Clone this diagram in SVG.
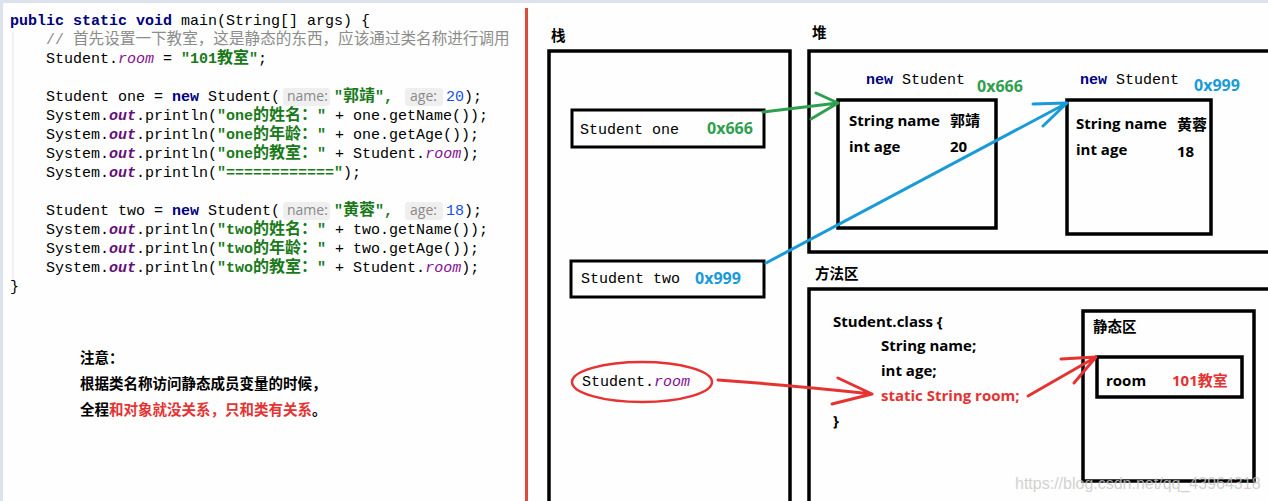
<svg xmlns="http://www.w3.org/2000/svg" width="1268" height="501" viewBox="0 0 1268 501">
<style>
.code{font-family:"Liberation Mono","Noto Sans CJK SC",monospace;font-size:15px;fill:#000}
.kw{font-weight:bold;fill:#000080}
.str{font-weight:bold;fill:#1a7a1a}
.cjk{font-family:"Noto Sans CJK SC",sans-serif;font-size:16px}
.ccjk{font-family:"Noto Sans CJK SC",sans-serif;font-size:15.6px}
.fld{font-style:italic;fill:#871094}
.out{font-style:italic;font-weight:bold;fill:#660e7a}
.num{fill:#1750eb}
.cmt{fill:#8c8c8c}
.hint{font-family:"Open Sans","Liberation Sans",sans-serif;font-size:14px;fill:#8a8a8a}
.hintbg{fill:#efefef}
.note{font-family:"Noto Sans CJK SC",sans-serif;font-weight:bold;font-size:14.5px;fill:#000}
.lbl{font-family:"Noto Sans CJK SC",sans-serif;font-weight:bold;font-size:14.5px;fill:#000}
.b{font-family:"Open Sans","Liberation Sans","Noto Sans CJK SC",sans-serif;font-weight:bold;font-size:15px;fill:#000}
.addr{font-family:"Open Sans","Liberation Sans",sans-serif;font-weight:bold;font-size:16px}
.g{fill:#2e9e4f}
.bl{fill:#1a9bd7}
.red,.b.red{fill:#e53333}
.box{fill:none;stroke:#000;stroke-width:3.5}
.thin{fill:none;stroke:#000;stroke-width:3}
</style>
<rect width="1268" height="501" fill="#fdfefd"/>
<rect x="0" y="0" width="1268" height="3" fill="#dde3ec"/>
<rect x="0" y="0" width="3" height="501" fill="#dde3ec"/>
<line x1="13" y1="32" x2="13" y2="282" stroke="#e2e2e2" stroke-width="1"/>
<rect x="525" y="8" width="3" height="493" fill="#e04a3a"/>

<g id="code">
<text class="code" xml:space="preserve" x="10" y="25"><tspan class="kw">public static void</tspan> main(String[] args) {</text>
<text class="code cmt" xml:space="preserve" x="46" y="44">// <tspan class="ccjk">首先设置一下教室，这是静态的东西，应该通过类名称进行调用</tspan></text>
<text class="code" xml:space="preserve" x="46" y="63">Student.<tspan class="fld">room</tspan> = <tspan class="str">"101<tspan class="cjk">教室</tspan>"</tspan>;</text>
<text class="code" xml:space="preserve" x="46" y="101">Student one = <tspan class="kw">new</tspan> Student(</text>
<rect class="hintbg" x="283" y="88" width="47" height="18" rx="3"/>
<text class="hint" x="287" y="101">name:</text>
<text class="code str" xml:space="preserve" x="334" y="101">"<tspan class="cjk">郭靖</tspan>",</text>
<rect class="hintbg" x="405" y="88" width="38" height="18" rx="3"/>
<text class="hint" x="410" y="101">age:</text>
<text class="code" xml:space="preserve" x="446" y="101"><tspan class="num">20</tspan>);</text>
<text class="code" xml:space="preserve" x="46" y="120">System.<tspan class="out">out</tspan>.println(<tspan class="str">"one<tspan class="cjk">的姓名：</tspan>"</tspan> + one.getName());</text>
<text class="code" xml:space="preserve" x="46" y="139">System.<tspan class="out">out</tspan>.println(<tspan class="str">"one<tspan class="cjk">的年龄：</tspan>"</tspan> + one.getAge());</text>
<text class="code" xml:space="preserve" x="46" y="158">System.<tspan class="out">out</tspan>.println(<tspan class="str">"one<tspan class="cjk">的教室：</tspan>"</tspan> + Student.<tspan class="fld">room</tspan>);</text>
<text class="code" xml:space="preserve" x="46" y="177">System.<tspan class="out">out</tspan>.println(<tspan class="str">"============"</tspan>);</text>
<text class="code" xml:space="preserve" x="46" y="215">Student two = <tspan class="kw">new</tspan> Student(</text>
<rect class="hintbg" x="283" y="202" width="47" height="18" rx="3"/>
<text class="hint" x="287" y="215">name:</text>
<text class="code str" xml:space="preserve" x="334" y="215">"<tspan class="cjk">黄蓉</tspan>",</text>
<rect class="hintbg" x="405" y="202" width="38" height="18" rx="3"/>
<text class="hint" x="410" y="215">age:</text>
<text class="code" xml:space="preserve" x="446" y="215"><tspan class="num">18</tspan>);</text>
<text class="code" xml:space="preserve" x="46" y="234">System.<tspan class="out">out</tspan>.println(<tspan class="str">"two<tspan class="cjk">的姓名：</tspan>"</tspan> + two.getName());</text>
<text class="code" xml:space="preserve" x="46" y="253">System.<tspan class="out">out</tspan>.println(<tspan class="str">"two<tspan class="cjk">的年龄：</tspan>"</tspan> + two.getAge());</text>
<text class="code" xml:space="preserve" x="46" y="272">System.<tspan class="out">out</tspan>.println(<tspan class="str">"two<tspan class="cjk">的教室：</tspan>"</tspan> + Student.<tspan class="fld">room</tspan>);</text>
<text class="code" x="10" y="291">}</text>
</g>

<g id="note">
<text class="note" x="80" y="363">注意：</text>
<text class="note" x="80" y="389">根据类名称访问静态成员变量的时候，</text>
<text class="note" x="80" y="415">全程<tspan class="red">和对象就没关系，只和类有关系</tspan>。</text>
</g>

<g id="stack">
<text class="lbl" x="551" y="41">栈</text>
<rect class="box" x="549" y="51" width="241" height="470"/>
</g>
<g id="stack-one">
<rect class="thin" x="572" y="110" width="192" height="37"/>
<text class="code" x="580" y="134">Student one</text>
<text class="addr g" x="707" y="134">0x666</text>
</g>
<g id="stack-two">
<rect class="thin" x="571" y="261" width="193" height="36"/>
<text class="code" x="581" y="283">Student two</text>
<text class="addr bl" x="695" y="284">0x999</text>
</g>
<g id="stack-room">
<ellipse cx="642" cy="382" rx="70" ry="20" fill="none" stroke="#e53333" stroke-width="2.5"/>
<text class="code" xml:space="preserve" x="582" y="386">Student.<tspan class="fld">room</tspan></text>
</g>

<g id="heap">
<text class="lbl" x="812" y="38">堆</text>
<rect class="box" x="809" y="51" width="470" height="201"/>
</g>
<g id="obj-one">
<text class="code" xml:space="preserve" x="866" y="84"><tspan class="kw">new</tspan> Student</text>
<text class="addr g" x="977" y="92">0x666</text>
<rect class="box" x="838" y="100" width="158" height="128"/>
<text class="b" x="849" y="126">String name</text>
<text class="b" x="950" y="126">郭靖</text>
<text class="b" x="849" y="152">int age</text>
<text class="b" x="950" y="152">20</text>
</g>
<g id="obj-two">
<text class="code" xml:space="preserve" x="1080" y="84"><tspan class="kw">new</tspan> Student</text>
<text class="addr bl" x="1194" y="91">0x999</text>
<rect class="box" x="1067" y="100" width="144" height="134"/>
<text class="b" x="1076" y="129">String name</text>
<text class="b" x="1177" y="130">黄蓉</text>
<text class="b" x="1076" y="155">int age</text>
<text class="b" x="1177" y="157">18</text>
</g>

<g id="method-area">
<text class="lbl" x="815" y="279">方法区</text>
<rect class="box" x="809" y="289" width="470" height="240"/>
<text class="b" x="833" y="327">Student.class {</text>
<text class="b" x="881" y="351">String name;</text>
<text class="b" x="881" y="376">int age;</text>
<text class="b red" x="881" y="401">static String room;</text>
<text class="b" x="833" y="426">}</text>
</g>
<g id="static-area">
<rect class="box" x="1083" y="311" width="171" height="170"/>
<text class="lbl" x="1093" y="332">静态区</text>
</g>
<g id="static-room">
<rect class="box" x="1097" y="357" width="145" height="40"/>
<text class="b" x="1106" y="386">room</text>
<text class="b red" x="1172" y="386">101教室</text>
</g>

<g id="connectors" fill="none" stroke-width="3" stroke-linecap="round" stroke-linejoin="round">
<path d="M763 112 L838 103 M816 93 L838 103 L811 119" stroke="#2e9e4f"/>
<path d="M766 263 L1067 103 M1033 104 L1067 103 L1043 126" stroke="#1a9bd7"/>
<path d="M718 380 Q800 386 872 394 M838 378 L872 394 L832 404" stroke="#e53333"/>
<path d="M1028 396 L1096 357 M1061 359 L1096 357 L1074 383" stroke="#e53333"/>
</g>

<text x="1015" y="489" font-family="Liberation Sans,sans-serif" font-size="16" fill="#c8c8c8" opacity="0.8">https://blog.csdn.net/qq_43964318</text>
</svg>
